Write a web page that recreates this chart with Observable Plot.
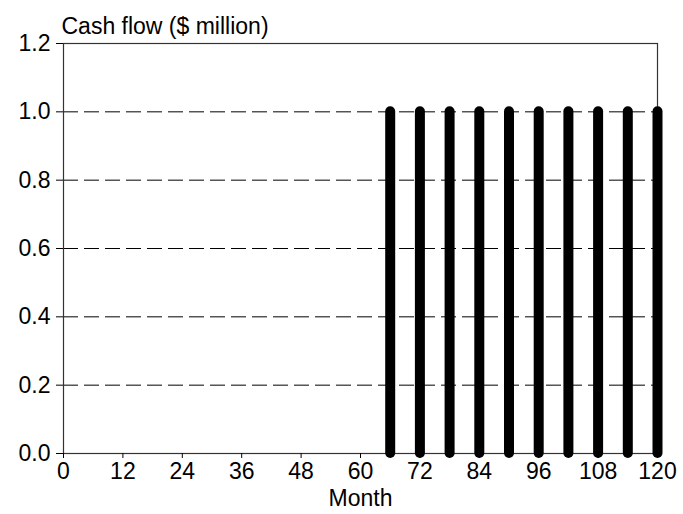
<!DOCTYPE html>
<html>
<head>
<meta charset="utf-8">
<script src="https://cdn.jsdelivr.net/npm/d3@7"></script>
<script src="https://cdn.jsdelivr.net/npm/@observablehq/plot@0.6"></script>
<style>
  body { margin: 0; background: #fff; }
</style>
</head>
<body>
<div id="chart"></div>
<script>
const months = [66, 72, 78, 84, 90, 96, 102, 108, 114, 120];
const cashFlow = [1, 1, 1, 1, 1, 1, 1, 1, 1, 1];
const xTicks = [0, 12, 24, 36, 48, 60, 72, 84, 96, 108, 120];
const yTicks = [0, 0.2, 0.4, 0.6, 0.8, 1.0, 1.2];
const gridValues = [0.2, 0.4, 0.6, 0.8, 1.0];
const yTitle = "Cash flow ($ million)";
const xTitle = "Month";

const data = months.map((m, i) => ({month: m, value: cashFlow[i]}));
const FS = 23;

const chart = Plot.plot({
  width: 683,
  height: 514,
  marginLeft: 63,
  marginRight: 26,
  marginTop: 43,
  marginBottom: 61,
  style: {fontSize: FS + "px", fontFamily: "'Liberation Sans', Arial, sans-serif", color: "#000", background: "#fff"},
  x: {domain: [0, 120], label: null},
  y: {domain: [0, 1.2], label: null},
  marks: [
    Plot.ruleY(gridValues, {stroke: "#000", strokeWidth: 1, strokeDasharray: "15,6"}),
    Plot.frame({stroke: "#333", strokeWidth: 1.2}),
    Plot.ruleX(data, {x: "month", y1: 0, y2: "value", stroke: "#000", strokeWidth: 10, strokeLinecap: "round"}),
    Plot.axisX({ticks: xTicks, tickSize: 5, tickPadding: 4, label: null, fontSize: FS}),
    Plot.axisY({ticks: yTicks, tickFormat: d3.format(".1f"), tickSize: 7, tickPadding: 6, label: null, fontSize: FS}),
    Plot.text([yTitle], {frameAnchor: "top-left", lineAnchor: "bottom", dx: -2, dy: -10, textAnchor: "start", fontSize: FS}),
    Plot.text([xTitle], {frameAnchor: "bottom", lineAnchor: "bottom", dy: 52, fontSize: FS})
  ]
});
document.getElementById("chart").appendChild(chart);
</script>
</body>
</html>
